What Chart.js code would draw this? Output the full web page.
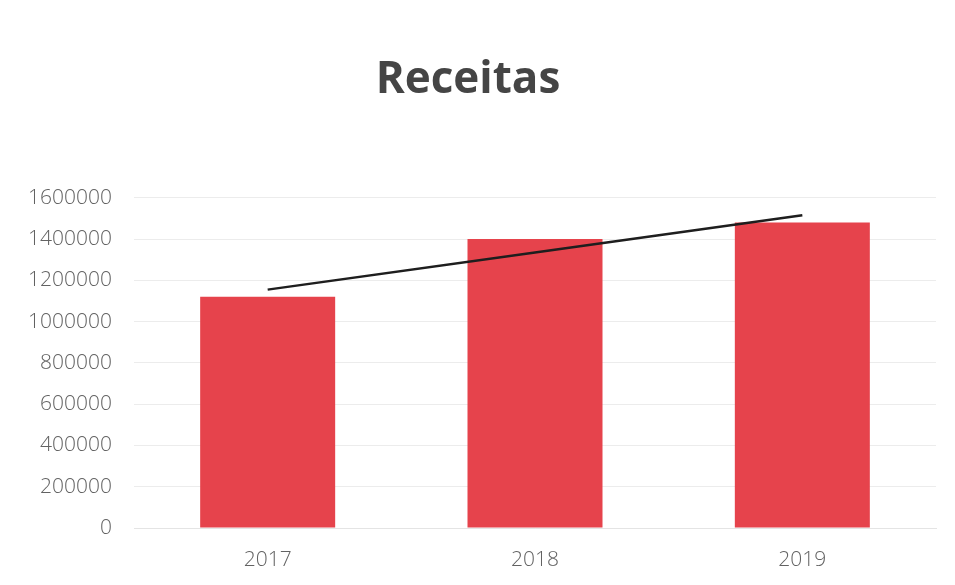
<!DOCTYPE html>
<html>
<head>
<meta charset="utf-8">
<script src="https://cdn.jsdelivr.net/npm/chart.js@4"></script>
<style>
  html, body { margin: 0; padding: 0; background: #fff; }
  #wrap { width: 955px; height: 585px; }
</style>
</head>
<body>
<div id="wrap"><canvas id="chart"></canvas></div>
<script>
// data
const years = ["2017", "2018", "2019"];
const receitas = [1120000, 1400000, 1480000];
const tendencia = [1155000, 1335000, 1515000]; // linear trendline
const yTicks = [0, 200000, 400000, 600000, 800000, 1000000, 1200000, 1400000, 1600000];

const textGray = "#626262";
const font = "'Open Sans', 'Noto Sans', sans-serif";

const ctx = document.getElementById("chart").getContext("2d");
new Chart(ctx, {
  data: {
    labels: years,
    datasets: [
      {
        type: "line",
        label: "Tendência",
        data: tendencia,
        borderColor: "#1e1e1e",
        borderWidth: 2.5,
        pointRadius: 0,
        tension: 0,
        order: 0
      },
      {
        type: "bar",
        label: "Receitas",
        data: receitas,
        backgroundColor: "#e6434c",
        barPercentage: 0.505,
        categoryPercentage: 1,
        order: 1
      }
    ]
  },
  options: {
    responsive: true,
    maintainAspectRatio: false,
    animation: false,
    layout: { padding: { left: 0, right: 19, top: 0, bottom: 0 } },
    plugins: {
      legend: { display: false },
      tooltip: { enabled: false },
      title: {
        display: true,
        text: "Receitas",
        color: "#454545",
        font: { family: font, size: 44, weight: "bold" },
        padding: { top: 54, bottom: 91 }
      }
    },
    scales: {
      x: {
        grid: { display: false },
        border: { display: true, color: "#e4e4e4" },
        ticks: { color: textGray, font: { family: font, size: 21, weight: 300 }, padding: 11 },
        afterFit: s => { s.height = 57; }
      },
      y: {
        min: 0,
        max: 1600000,
        afterBuildTicks: s => { s.ticks = yTicks.map(v => ({ value: v })); },
        grid: { color: "#ececec", drawTicks: false },
        border: { display: false },
        ticks: {
          color: textGray,
          font: { family: font, size: 21, weight: 300 },
          padding: 22,
          callback: v => String(v)
        },
        afterFit: s => { s.width = 134; }
      }
    }
  }
});
</script>
</body>
</html>
